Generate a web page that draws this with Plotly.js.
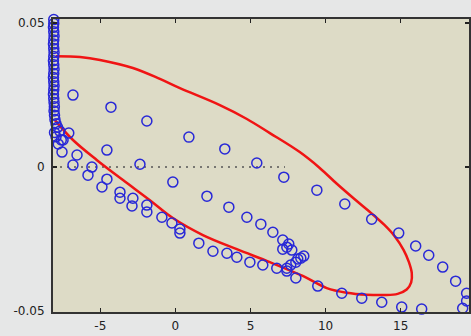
<!DOCTYPE html>
<html>
<head>
<meta charset="utf-8">
<script src="https://cdn.plot.ly/plotly-3.0.1.min.js"></script>
<style>html,body{margin:0;padding:0;background:#e6e7e7;}#chart{width:471px;height:336px;}</style>
</head>
<body>
<div id="chart"></div>
<script>
// Blue open circles (trajectory samples)
var pointsX = [
  -8.10,-8.10,-8.12,-8.10,-8.08,-8.10,-8.12,-8.10,-8.08,-8.10,-8.12,-8.10,-8.08,-8.10,
  -8.12,-8.10,-8.08,-8.10,-8.12,-8.10,-8.08,-8.06,-8.08,-8.05,-8.02,-7.95,-7.85,-7.70,
  -8.05,-7.95,-7.60,-7.10,-7.80,-7.48,-7.55,-6.55,-6.82,-5.56,-5.82,-4.56,-4.89,-3.69,
  -3.69,-2.83,-2.89,-1.90,-1.90,-0.90,-0.23,0.30,0.30,1.56,2.50,3.43,4.09,4.96,5.82,
  6.75,7.42,8.02,9.48,11.08,12.41,13.74,15.07,16.40,17.60,18.53,19.13,19.39,19.39,
  18.66,17.80,16.87,16.00,14.87,13.07,11.28,9.42,7.22,5.42,3.29,0.90,-1.90,-4.29,-6.82,
  -4.56,-2.36,-0.17,2.10,3.56,4.76,5.69,6.49,7.15,7.42,7.75,7.15,7.55,
  8.35,8.02,7.68,7.42,8.55,8.15
];
var pointsY = [
  0.0512,0.0498,0.0485,0.0470,0.0455,0.0441,0.0427,0.0412,0.0398,0.0384,0.0369,0.0355,0.0340,0.0325,
  0.0311,0.0296,0.0282,0.0268,0.0253,0.0238,0.0224,0.0209,0.0195,0.0180,0.0165,0.0150,0.0138,0.0125,
  0.0120,0.0105,0.0094,0.0118,0.0080,0.0094,0.0052,0.0042,0.0007,0.0000,-0.0028,-0.0042,-0.0069,-0.0087,
  -0.0108,-0.0108,-0.0135,-0.0132,-0.0156,-0.0174,-0.0194,-0.0215,-0.0229,-0.0264,-0.0292,-0.0299,-0.0313,-0.0330,-0.0340,
  -0.0351,-0.0361,-0.0385,-0.0413,-0.0438,-0.0455,-0.0469,-0.0486,-0.0493,-0.0507,-0.0514,-0.0490,-0.0465,-0.0438,
  -0.0396,-0.0347,-0.0306,-0.0274,-0.0229,-0.0181,-0.0128,-0.0080,-0.0035,0.0014,0.0063,0.0104,0.0160,0.0208,0.0250,
  0.0059,0.0010,-0.0052,-0.0101,-0.0139,-0.0174,-0.0198,-0.0226,-0.0253,-0.0278,-0.0288,-0.0285,-0.0267,
  -0.0316,-0.0330,-0.0340,-0.0351,-0.0309,-0.0319
];
// Red confidence ellipse outline
var ellipseX = [-8.02,-6.82,-5.22,-3.49,-1.70,-0.17,1.83,4.09,6.29,8.48,10.08,11.41,12.74,13.90,14.80,15.40,15.70,15.74,15.55,15.20,14.60,13.90,13.00,11.90,10.75,9.61,8.28,6.29,4.76,2.96,0.30,-1.03,-2.83,-5.02,-6.35,-7.95];
var ellipseY = [0.0163,0.0094,0.0024,-0.0045,-0.0115,-0.0177,-0.0236,-0.0285,-0.0330,-0.0378,-0.0420,-0.0436,-0.0443,-0.0444,-0.0440,-0.0425,-0.0400,-0.0368,-0.0330,-0.0288,-0.0240,-0.0200,-0.0158,-0.0110,-0.0058,-0.0003,0.0052,0.0118,0.0167,0.0215,0.0274,0.0306,0.0344,0.0372,0.0382,0.0385];
// Dotted zero reference line
var zeroX = [-8.15, 7.3];
var zeroY = [0, 0];
// Ticks
var xTicks = [-5, 0, 5, 10, 15];
var xTickText = ['-5', '0', '5', '10', '15'];
var yTicks = [-0.05, 0, 0.05];
var yTickText = ['-0.05', '0', '0.05'];

var traces = [
  {x: zeroX, y: zeroY, mode: 'lines', line: {color: '#555555', width: 1.5, dash: '2px,5px'}, hoverinfo: 'skip'},
  {x: ellipseX, y: ellipseY, mode: 'lines', line: {color: 'rgb(240,20,20)', width: 2.5, shape: 'spline', smoothing: 1}},
  {x: pointsX, y: pointsY, mode: 'markers', cliponaxis: false,
   marker: {symbol: 'circle-open', size: 10, color: 'rgb(40,40,215)', line: {width: 1.5, color: 'rgb(40,40,215)'}}}
];

var axisFont = {family: 'DejaVu Sans, Arial, sans-serif', size: 12, color: '#222'};
var layout = {
  width: 471, height: 336,
  margin: {l: 53, r: 2, t: 19, b: 24, pad: 0},
  paper_bgcolor: '#e6e7e7',
  plot_bgcolor: '#dddbc6',
  showlegend: false,
  xaxis: {
    range: [-8.15, 19.55], tickvals: xTicks, ticktext: xTickText,
    ticks: 'inside', ticklen: 4, tickwidth: 1.5, tickcolor: '#222',
    showline: true, linecolor: '#333', linewidth: 2, mirror: 'ticks',
    showgrid: false, zeroline: false, tickfont: axisFont, ticklabelstandoff: 2
  },
  yaxis: {
    range: [-0.0503, 0.0514], tickvals: yTicks, ticktext: yTickText,
    ticks: 'inside', ticklen: 4, tickwidth: 1.5, tickcolor: '#222',
    showline: true, linecolor: '#333', linewidth: 2, mirror: 'ticks',
    showgrid: false, zeroline: false, tickfont: axisFont, ticklabelstandoff: 4
  }
};
Plotly.newPlot('chart', traces, layout, {displayModeBar: false, staticPlot: true});
</script>
</body>
</html>
